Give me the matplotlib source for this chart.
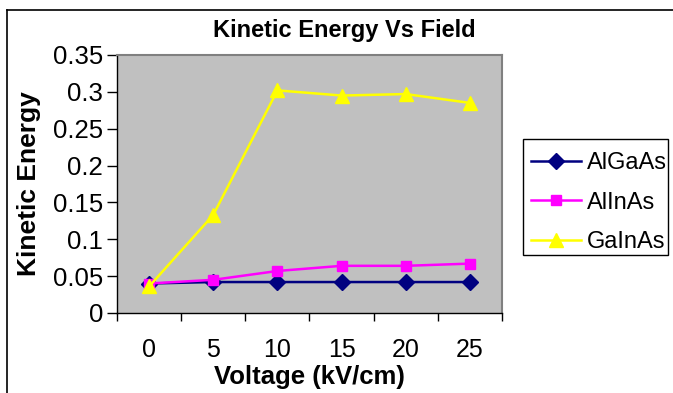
import numpy as np
import matplotlib.pyplot as plt
from matplotlib.lines import Line2D
from matplotlib.patches import Rectangle

plt.rcParams['font.family'] = ['Liberation Sans', 'DejaVu Sans']

# data
voltage = ["0", "5", "10", "15", "20", "25"]
algaas = [0.040, 0.042, 0.042, 0.042, 0.042, 0.042]
alinas = [0.040, 0.045, 0.057, 0.064, 0.064, 0.067]
gainas = [0.036, 0.133, 0.302, 0.295, 0.297, 0.285]

fig = plt.figure(figsize=(6.73, 3.93), dpi=100)
ax = fig.add_axes([117/673, 1-313/393, 385/673, 258/393])
ax.set_facecolor('#C0C0C0')

x = np.arange(len(voltage))
ax.plot(x, algaas, '-D', color='#000080', lw=1.8, ms=8, label='AlGaAs')
ax.plot(x, alinas, '-s', color='#FF00FF', lw=1.8, ms=7.5, label='AlInAs')
ax.plot(x, gainas, '-^', color='#FFFF00', lw=1.8, ms=10, label='GaInAs')

ax.set_xlim(-0.5, len(voltage) - 0.5)
ax.set_ylim(0, 0.35)
ax.set_yticks(np.arange(0, 0.36, 0.05))
ax.set_yticklabels(['0', '0.05', '0.1', '0.15', '0.2', '0.25', '0.3', '0.35'])

# category axis: ticks between categories, labels centered
ax.set_xticks(np.arange(-0.5, len(voltage), 1.0))
ax.set_xticklabels([])
ax.set_xticks(x, minor=True)
ax.set_xticklabels(voltage, minor=True)
ax.tick_params(axis='x', which='major', direction='out', length=6, width=1)
ax.tick_params(axis='x', which='minor', length=0, pad=18, labelsize=18)
ax.tick_params(axis='y', direction='out', length=7, width=1, labelsize=18.5, pad=3)

for s in ['top', 'right']:
    ax.spines[s].set_color('#808080')
    ax.spines[s].set_linewidth(1.5)
for s in ['left', 'bottom']:
    ax.spines[s].set_color('black')
    ax.spines[s].set_linewidth(1)

ax.set_xlabel('Voltage (kV/cm)', fontsize=18.5, fontweight='bold')
ax.xaxis.set_label_coords(0.5, -0.2)
ax.set_ylabel('Kinetic Energy', fontsize=19, fontweight='bold')
ax.yaxis.set_label_coords(-0.197, 0.5)

fig.text(344/673, 1-30/393, 'Kinetic Energy Vs Field', ha='center', va='center',
         fontsize=17, fontweight='bold')

# legend frame drawn separately so it fits inside the picture
fig.add_artist(Rectangle((523/673, 1-255/393), 145/673, 116/393, fill=False,
                         edgecolor='black', lw=1, transform=fig.transFigure))
fig.legend(loc='upper left', bbox_to_anchor=(518/673, 1-139/393),
           fontsize=17, frameon=False, handlelength=2.1,
           handletextpad=0.25, labelspacing=0.75, borderpad=0.55,
           borderaxespad=0)

# outer chart border (left and top visible)
fig.add_artist(Line2D([7/673, 7/673], [0, 1-10/393], color='black', lw=1.2,
                      transform=fig.transFigure))
fig.add_artist(Line2D([7/673, 1], [1-10/393, 1-10/393], color='black', lw=1.2,
                      transform=fig.transFigure))

fig.savefig('out.png', dpi=100)
